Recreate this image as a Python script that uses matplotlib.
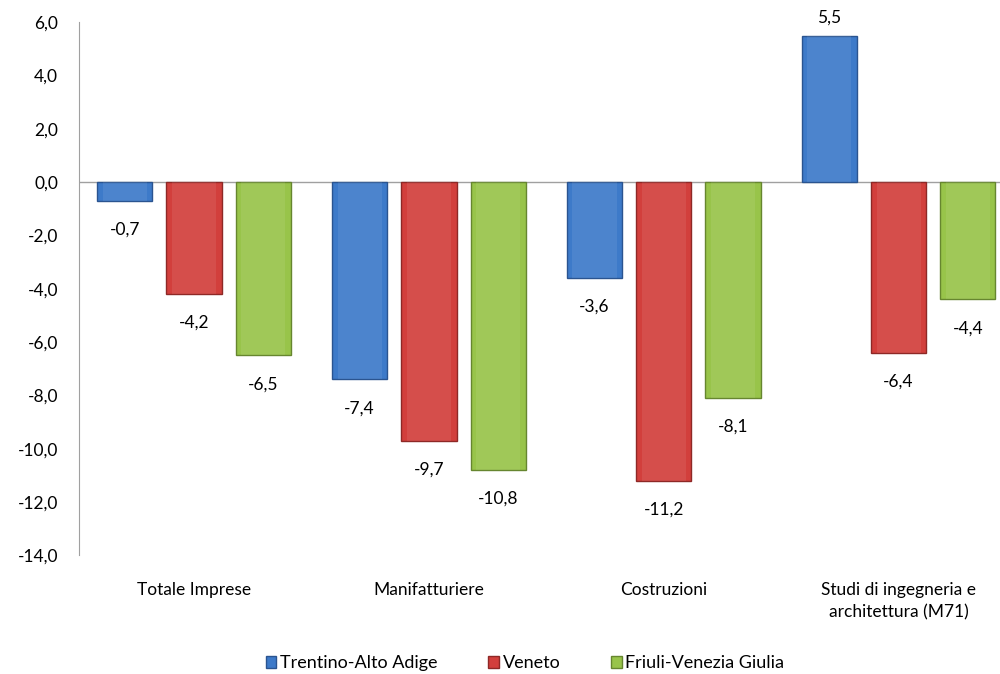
import numpy as np
import matplotlib.pyplot as plt
from matplotlib.patches import Patch

plt.rcParams['font.family'] = ['Lato', 'DejaVu Sans']

# Categorie e valori (variazione %)
categorie = ['Totale Imprese', 'Manifatturiere', 'Costruzioni',
             'Studi di ingegneria e\narchitettura (M71)']
regioni = ['Trentino-Alto Adige', 'Veneto', 'Friuli-Venezia Giulia']
trentino = [-0.7, -7.4, -3.6, 5.5]
veneto = [-4.2, -9.7, -11.2, -6.4]
friuli = [-6.5, -10.8, -8.1, -4.4]

colori = ['#3d7ac9', '#d23f3c', '#98c44a']
bordi = ['#2a5490', '#8e2826', '#66862f']

fig = plt.figure(figsize=(10, 6.74), dpi=100)
ax = fig.add_axes([0.079, 0.176, 0.937, 0.791])

x = np.arange(len(categorie))
larghezza = 0.235
passo = 0.295

for i, (serie, nome) in enumerate(zip([trentino, veneto, friuli], regioni)):
    pos = x + (i - 1) * passo
    ax.bar(pos, serie, larghezza, color=colori[i], edgecolor=bordi[i],
           linewidth=1.0, zorder=2)
    # riflesso chiaro al centro della barra
    ax.bar(pos, serie, larghezza * 0.8, color='white', alpha=0.08,
           linewidth=0, zorder=3)
    for xp, v in zip(pos, serie):
        testo = f'{v:.1f}'.replace('.', ',')
        if v < 0:
            ax.annotate(testo, (xp, v), xytext=(0, -15), textcoords='offset points',
                        ha='center', va='top', fontsize=12.5)
        else:
            ax.annotate(testo, (xp, v), xytext=(0, 7), textcoords='offset points',
                        ha='center', va='bottom', fontsize=12.5)

ax.axhline(0, color='#a0a0a0', linewidth=1.0, zorder=1)

ax.set_xlim(-0.49, 3.5)
ax.set_ylim(-14, 6)
ax.set_yticks(np.arange(-14, 7, 2))
ax.set_yticklabels([f'{t:.1f}'.replace('.', ',') for t in np.arange(-14, 7, 2)])
ax.set_xticks(x)
ax.set_xticklabels(categorie, linespacing=1.5)

for s in ['top', 'right', 'bottom']:
    ax.spines[s].set_visible(False)
ax.spines['left'].set_color('#a0a0a0')
ax.tick_params(axis='y', length=0, pad=15, labelsize=12.5)
ax.tick_params(axis='x', length=0, pad=19, labelsize=12.5)

handles = [Patch(facecolor=colori[i], edgecolor=bordi[i]) for i in range(3)]
fig.legend(handles, regioni, loc='lower center', ncol=3, frameon=False,
           bbox_to_anchor=(0.525, -0.02), fontsize=13, handlelength=0.6,
           handleheight=0.6, handletextpad=0.2, columnspacing=2.8)

fig.savefig('out.png', dpi=100)
